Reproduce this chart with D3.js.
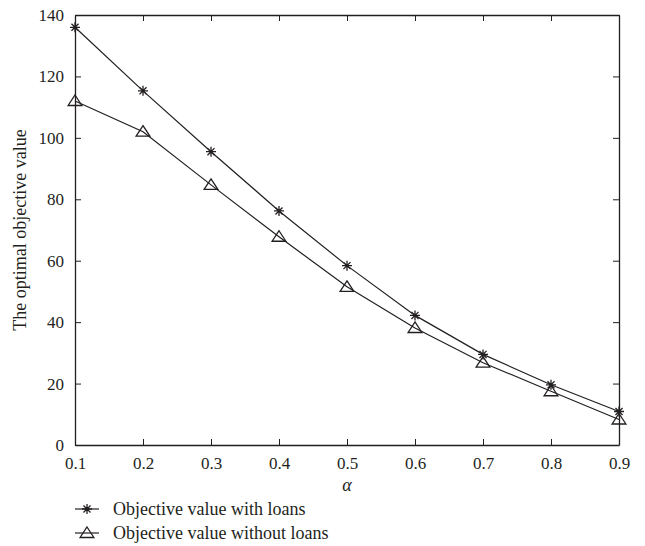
<!DOCTYPE html>
<html>
<head>
<meta charset="utf-8">
<script src="https://cdn.jsdelivr.net/npm/d3@7"></script>
<style>
  body { margin: 0; background: #fff; }
  svg text { font-family: "Liberation Serif", "DejaVu Serif", serif; fill: #231f20; }
</style>
</head>
<body>
<div id="chart"></div>
<script>
// data
var alphas = [0.1, 0.2, 0.3, 0.4, 0.5, 0.6, 0.7, 0.8, 0.9];
var withLoans = [136, 115.3, 95.5, 76.2, 58.4, 42.2, 29.5, 19.6, 10.9];
var withoutLoans = [112, 102, 84.7, 67.8, 51.5, 38.1, 26.8, 17.5, 8.3];
var xTicks = [0.1, 0.2, 0.3, 0.4, 0.5, 0.6, 0.7, 0.8, 0.9];
var yTicks = [0, 20, 40, 60, 80, 100, 120, 140];
var legendLabels = ["Objective value with loans", "Objective value without loans"];

var width = 645, height = 546;
var margin = {top: 15, right: 26, bottom: 101, left: 75};
var ink = "#231f20";

var svg = d3.select("#chart").append("svg")
    .attr("width", width)
    .attr("height", height);

var x = d3.scaleLinear().domain([0.1, 0.9]).range([margin.left, width - margin.right]);
var y = d3.scaleLinear().domain([0, 140]).range([height - margin.bottom, margin.top]);

//axes, ticks pointing inward on all four sides
function styleAxis(g) {
  g.select(".domain").attr("stroke", ink).attr("stroke-width", 1.3);
  g.selectAll(".tick line").attr("stroke", ink).attr("stroke-width", 1);
  g.selectAll(".tick text").style("font-size", "17px").attr("fill", ink);
}

svg.append("g")
    .attr("transform", "translate(0," + y(0) + ")")
    .call(d3.axisBottom(x).tickValues(xTicks).tickSizeInner(-6).tickSizeOuter(0).tickPadding(12).tickFormat(d3.format(".1f")))
    .call(styleAxis);

svg.append("g")
    .attr("transform", "translate(0," + y(140) + ")")
    .call(d3.axisTop(x).tickValues(xTicks).tickSizeInner(-6).tickSizeOuter(0).tickFormat(""))
    .call(styleAxis);

svg.append("g")
    .attr("transform", "translate(" + x(0.1) + ",0)")
    .call(d3.axisLeft(y).tickValues(yTicks).tickSizeInner(-6).tickSizeOuter(0).tickPadding(11))
    .call(styleAxis);

svg.append("g")
    .attr("transform", "translate(" + x(0.9) + ",0)")
    .call(d3.axisRight(y).tickValues(yTicks).tickSizeInner(-6).tickSizeOuter(0).tickFormat(""))
    .call(styleAxis);

//axis titles
svg.append("text")
    .attr("x", (x(0.1) + x(0.9)) / 2)
    .attr("y", 491)
    .attr("text-anchor", "middle")
    .style("font-size", "18px")
    .style("font-style", "italic")
    .text("α");

svg.append("text")
    .attr("transform", "translate(26," + (y(70)) + ") rotate(-90)")
    .attr("text-anchor", "middle")
    .style("font-size", "18px")
    .text("The optimal objective value");

//marker shapes
function starPath(cx, cy, r) {
  var d = r * Math.SQRT1_2;
  return "M" + (cx - r) + "," + cy + "H" + (cx + r) +
         "M" + cx + "," + (cy - r) + "V" + (cy + r) +
         "M" + (cx - d) + "," + (cy - d) + "L" + (cx + d) + "," + (cy + d) +
         "M" + (cx - d) + "," + (cy + d) + "L" + (cx + d) + "," + (cy - d);
}
function triPath(cx, cy, r) {
  return "M" + cx + "," + (cy - r) +
         "L" + (cx + r * 1.15) + "," + (cy + r * 0.75) +
         "L" + (cx - r * 1.15) + "," + (cy + r * 0.75) + "Z";
}

var series = [
  {name: legendLabels[0], values: withLoans, marker: "star"},
  {name: legendLabels[1], values: withoutLoans, marker: "tri"}
];

var line = d3.line()
    .x(function(d, i) { return x(alphas[i]); })
    .y(function(d) { return y(d); });

series.forEach(function(s) {
  svg.append("path")
      .datum(s.values)
      .attr("d", line)
      .attr("fill", "none")
      .attr("stroke", ink)
      .attr("stroke-width", 1.2);

  svg.append("g").selectAll("path")
      .data(s.values)
      .enter().append("path")
      .attr("d", function(d, i) {
        return s.marker == "star" ? starPath(x(alphas[i]), y(d), 5) : triPath(x(alphas[i]), y(d), 6);
      })
      .attr("fill", "none")
      .attr("stroke", ink)
      .attr("stroke-width", 1.3);
});

//legend
var legend = svg.append("g");
series.forEach(function(s, i) {
  var ly = 509 + i * 24;
  legend.append("line")
      .attr("x1", 75).attr("x2", 99)
      .attr("y1", ly).attr("y2", ly)
      .attr("stroke", ink).attr("stroke-width", 1.2);
  legend.append("path")
      .attr("d", s.marker == "star" ? starPath(87, ly, 5) : triPath(87, ly, 6))
      .attr("fill", "none")
      .attr("stroke", ink)
      .attr("stroke-width", 1.3);
  legend.append("text")
      .attr("x", 113)
      .attr("y", ly)
      .attr("dy", "0.35em")
      .style("font-size", "18px")
      .text(s.name);
});
</script>
</body>
</html>
